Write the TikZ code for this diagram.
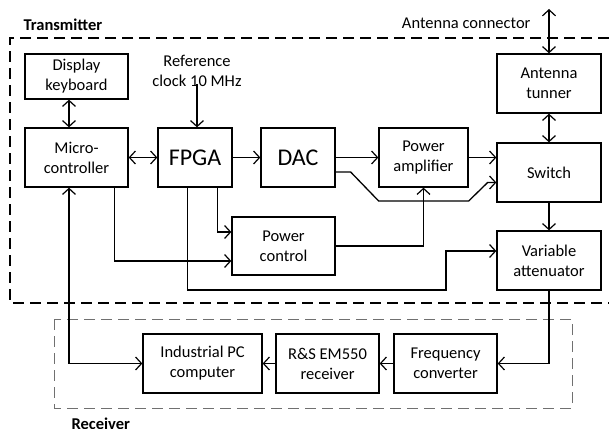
\documentclass[tikz,border=0pt]{standalone}
\usepackage{fontspec}
\setmainfont{Carlito}
\usetikzlibrary{arrows.meta,positioning,calc}
\definecolor{rxgray}{HTML}{707070}

\begin{document}
\begin{tikzpicture}[
    x=1pt,y=-1pt,
    font=\fontsize{16.5}{20}\selectfont,
    box/.style={draw,line width=1.3pt,align=center,minimum width=103pt,minimum height=59pt,inner sep=1pt},
    bigbox/.style={box,minimum width=74pt,font=\fontsize{24}{28}\selectfont},
    arrow/.style={-{Straight Barb[length=6pt,width=13pt,line width=1.2pt]},line width=1.3pt},
    biarrow/.style={{Straight Barb[length=6pt,width=13pt,line width=1.2pt]}-{Straight Barb[length=6pt,width=13pt,line width=1.2pt]},line width=1.3pt},
    frame/.style={dash pattern=on 11pt off 6pt,line width=1.1pt}
  ]
    \useasboundingbox (0,0) rectangle (609,428);

    % transmitter
    \draw[frame] (609,38) -- (10,38) -- (10,303) -- (609,303);
    \node[anchor=west,font=\fontsize{16.5}{20}\selectfont\bfseries] (txlabel) at (20,25) {Transmitter};

    \node[box,minimum height=45pt] (disp) at (76.5,76.5) {Display\\keyboard};
    \node[box] (micro) at (76.5,157.5) {Micro-\\controller};
    \node[bigbox] (fpga) at (195,157.5) {FPGA};
    \node[bigbox] (dac) at (298,157.5) {DAC};
    \node[box,minimum width=89pt] (pamp) at (423.5,157.5) {Power\\amplifier};
    \node[box,minimum width=104pt] (tuner) at (549,83.5) {Antenna\\tunner};
    \node[box,minimum width=104pt] (switch) at (549,172.5) {Switch};
    \node[box,minimum width=104pt] (att) at (549,260.5) {Variable\\attenuator};
    \node[box,minimum height=58pt] (pctl) at (283.5,246) {Power\\control};
    \node[align=center] (refclk) at (197,71) {Reference\\clock 10 MHz};
    \node[anchor=east] (antlabel) at (534,23) {Antenna connector};
    \coordinate (ant) at (549,9);
    \coordinate (clkin) at (197,84);

    % receiver
    \draw[frame,draw=rxgray,line width=0.9pt] (54,319) rectangle (572,408);
    \node[anchor=base west,font=\fontsize{16.5}{20}\selectfont\bfseries] (rxlabel) at (68,429) {Receiver};

    \node[box,minimum width=119pt] (pc) at (202.5,363.5) {Industrial PC\\computer};
    \node[box] (rs) at (327.5,363.5) {R\&S EM550\\receiver};
    \node[box] (freq) at (445.5,363.5) {Frequency\\converter};

    % connections
    \draw[biarrow] ([xshift=-7.5pt]disp.south) -- ([xshift=-7.5pt]micro.north);
    \draw[biarrow] (micro) -- (fpga);
    \draw[arrow] (clkin) -- (clkin |- fpga.north);
    \draw[arrow] (fpga) -- (dac);
    \draw[arrow] (dac) -- (pamp);
    \draw[arrow] (pamp.east) -- (pamp.east -| switch.west);
    \draw[arrow] ([yshift=-14.5pt]dac.east) -- ++(15,0) -- ++(28,29) -- ++(90,0)
      -- ++(19,-18.5) -- ([yshift=-10pt]switch.west);
    \draw[biarrow] (ant) -- (tuner);
    \draw[biarrow] (tuner) -- (switch);
    \draw[arrow] (switch) -- (att);
    \draw[arrow] ([xshift=-14pt]micro.south east) |- ([yshift=-15pt]pctl.west);
    \draw[arrow] ([xshift=-15pt]fpga.south east) |- ([yshift=14pt]pctl.west);
    \draw[arrow] ([xshift=30pt]fpga.south west) |- (446,290) |- ([yshift=9.5pt]att.west);
    \draw[arrow] (pctl.east) -| (pamp.south);
    \draw[biarrow] ([xshift=-7.5pt]micro.south) |- (pc.west);
    \draw[arrow] (att.south) |- (freq.east);
    \draw[arrow] (freq) -- (rs);
    \draw[arrow] (rs) -- (pc);
  \end{tikzpicture}
\end{document}
